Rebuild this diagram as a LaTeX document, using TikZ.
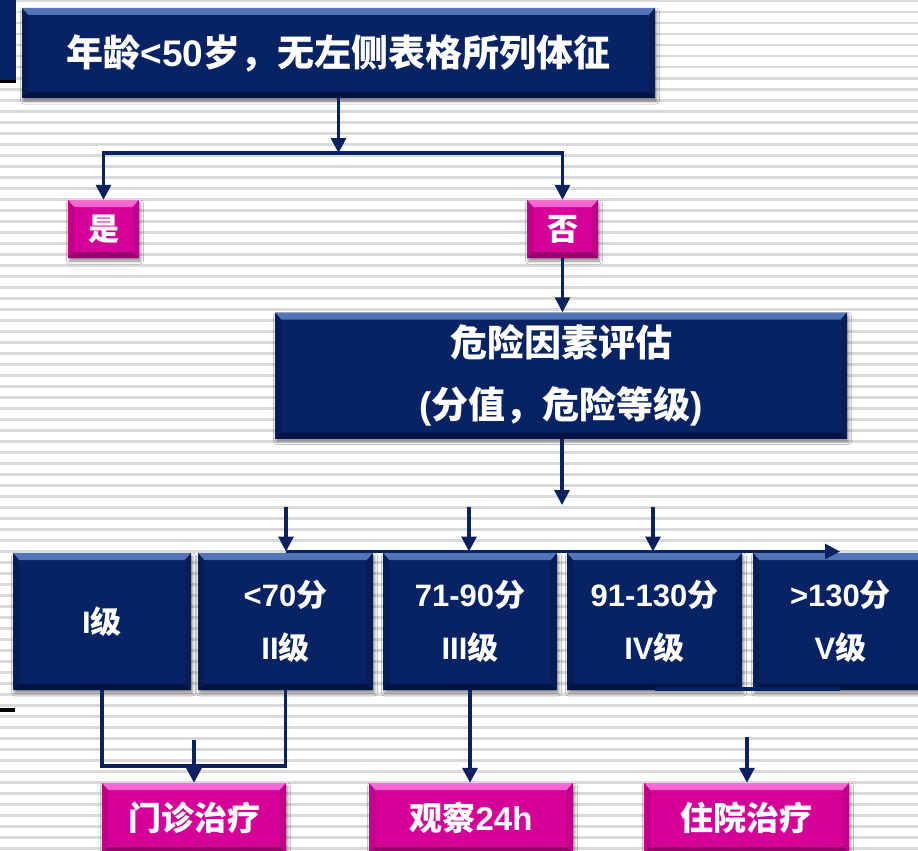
\documentclass[tikz,border=0pt]{standalone}
\usepackage{fontspec}
\setmainfont{Noto Sans CJK SC}
\newfontfamily\lat{Liberation Sans}
\usetikzlibrary{arrows.meta,shadows.blur}
\definecolor{navy}{RGB}{8,35,99}
\definecolor{navyhi}{RGB}{85,118,185}
\definecolor{navyside}{RGB}{6,29,86}
\definecolor{navylo}{RGB}{4,20,66}
\definecolor{linecol}{RGB}{10,34,96}
\definecolor{pink}{RGB}{212,0,152}
\definecolor{pinkhi}{RGB}{245,110,212}
\definecolor{pinkside}{RGB}{192,0,138}
\definecolor{pinklo}{RGB}{150,0,106}
\definecolor{stripe}{RGB}{217,217,217}
\tikzset{
  bevel/.style n args={4}{rectangle, fill=#1, text=white, inner sep=0pt, align=center,
    blur shadow={shadow xshift=1.5pt, shadow yshift=-3pt, shadow blur radius=3pt, shadow opacity=45},
    path picture={
      \shade[top color=#2, bottom color=#1]
        (path picture bounding box.north west) -- (path picture bounding box.north east)
        -- ([xshift=-6pt,yshift=-7pt]path picture bounding box.north east)
        -- ([xshift=6pt,yshift=-7pt]path picture bounding box.north west) -- cycle;
      \fill[#3]
        (path picture bounding box.north west) -- ([xshift=6pt,yshift=-7pt]path picture bounding box.north west)
        -- ([xshift=6pt,yshift=6pt]path picture bounding box.south west) -- (path picture bounding box.south west) -- cycle;
      \fill[#3]
        (path picture bounding box.north east) -- ([xshift=-6pt,yshift=-7pt]path picture bounding box.north east)
        -- ([xshift=-6pt,yshift=6pt]path picture bounding box.south east) -- (path picture bounding box.south east) -- cycle;
      \fill[#4]
        (path picture bounding box.south west) -- ([xshift=6pt,yshift=6pt]path picture bounding box.south west)
        -- ([xshift=-6pt,yshift=6pt]path picture bounding box.south east) -- (path picture bounding box.south east) -- cycle;
    }},
  navybox/.style={bevel={navy}{navyhi}{navyside}{navylo}},
  pinkbox/.style={bevel={pink}{pinkhi}{pinkside}{pinklo}},
  arr/.style={line width=3.2pt, draw=linecol, -{Triangle[width=15pt,length=15pt]}},
  conn/.style={line width=3.2pt, draw=linecol},
  bigtxt/.style={font=\bfseries\fontsize{37}{62}\selectfont},
  lvltxt/.style={font=\bfseries\fontsize{31}{53}\selectfont},
  bottxt/.style={font=\bfseries\fontsize{33}{40}\selectfont},
}
\begin{document}
\begin{tikzpicture}[x=1pt,y=-1pt]
\useasboundingbox (0,0) rectangle (918,851);
\fill[white] (0,0) rectangle (918,851);
\foreach \k in {0,...,77}{
  \fill[stripe] (0,11*\k) rectangle (918,11*\k+2.5);
}
% left edge marks
\fill[navy] (0,0) rectangle (16,80);
\fill[black] (0,80) rectangle (16,83);
\fill[black] (0,708) rectangle (15,712);

% nodes
\node[navybox, bigtxt, minimum width=633pt, minimum height=90pt] (top) at (338.5,53) {年龄{\lat <50}岁，无左侧表格所列体征};
\node[pinkbox, lvltxt, minimum width=71pt, minimum height=58pt] (yes) at (103.5,229) {是};
\node[pinkbox, lvltxt, minimum width=71pt, minimum height=58pt] (no) at (562.5,229) {否};
\node[navybox, bigtxt, minimum width=572pt, minimum height=126pt] (risk) at (561,375.5) {危险因素评估\\{\lat (}分值，危险等级{\lat )}};

\node[navybox, lvltxt, minimum width=178pt, minimum height=137pt] (L1) at (102,621.5) {{\lat I}级};
\node[navybox, lvltxt, minimum width=175pt, minimum height=137pt] (L2) at (285.5,621.5) {{\lat <70}分\\{\lat II}级};
\node[navybox, lvltxt, minimum width=174pt, minimum height=137pt] (L3) at (470,621.5) {{\lat 71-90}分\\{\lat III}级};
\node[navybox, lvltxt, minimum width=175pt, minimum height=137pt] (L4) at (654.5,621.5) {{\lat 91-130}分\\{\lat IV}级};
\node[navybox, lvltxt, minimum width=175pt, minimum height=137pt] (L5) at (840.5,621.5) {{\lat >130}分\\{\lat V}级};

\node[pinkbox, bottxt, minimum width=184pt, minimum height=70pt] (B1) at (194,818) {门诊治疗};
\node[pinkbox, bottxt, minimum width=204pt, minimum height=70pt] (B2) at (471,818) {观察{\lat 24h}};
\node[pinkbox, bottxt, minimum width=205pt, minimum height=70pt] (B3) at (746.5,818) {住院治疗};

% junction coordinates
\coordinate (j1) at (338.5,153);
\coordinate (j2) at (562,505);
\coordinate (h2) at (840,551.5);
\coordinate (a1) at (286,507);
\coordinate (a2) at (469,507);
\coordinate (a3) at (653,507);
\coordinate (m) at (194,766);
\coordinate (a4) at (194,740);
\coordinate (a5) at (747,737);
\coordinate (u1) at (655,689);
\coordinate (u2) at (840,689);

% connectors
\draw[arr] (top.south) -- (j1);
\draw[arr] (j1) -| (yes.north);
\draw[arr] (j1) -| (no.north);
\draw[arr] (no.south) -- (no.south |- risk.north);
\draw[arr] (risk.south -| j2) -- (j2);
\draw[arr] (a1) -- (a1 |- h2);
\draw[arr] (a2) -- (a2 |- h2);
\draw[arr] (a3) -- (a3 |- h2);
\draw[arr] (a1 |- h2) -- (h2);
\draw[conn] (u1) -- (u2);
\draw[conn] (L1.south) |- (m) -| (L2.south);
\draw[arr] (a4) -- (B1.north);
\draw[arr] (L3.south) -- (L3.south |- B2.north);
\draw[arr] (a5) -- (a5 |- B3.north);
\end{tikzpicture}
\end{document}
